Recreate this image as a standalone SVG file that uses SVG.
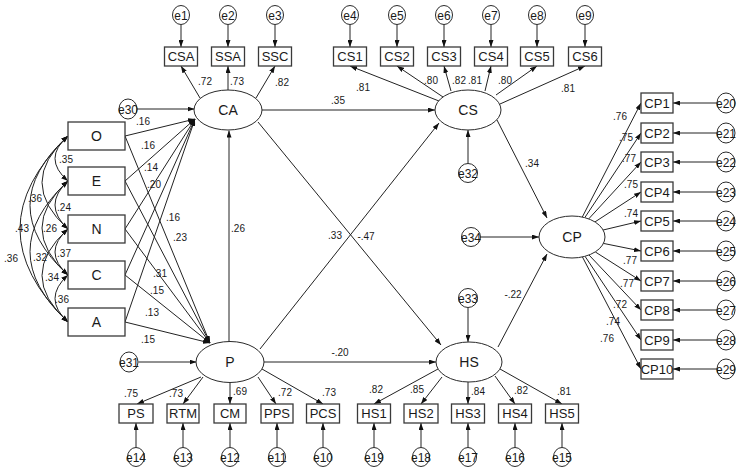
<svg xmlns="http://www.w3.org/2000/svg" width="738" height="471" viewBox="0 0 738 471">
<style>
text{font-family:"Liberation Sans",Arial,sans-serif;fill:#1a1a1a;text-anchor:middle}
.box{fill:#fff;stroke:#3a3a3a;stroke-width:1.3}
.lat{fill:#fff;stroke:#2a2a2a;stroke-width:1}
.err{fill:#fff;stroke:#2a2a2a;stroke-width:1}
.bl{font-size:13px}
.ll{font-size:14px}
.el{font-size:12px}
.cf{font-size:10px}
#connectors line,#connectors path{stroke:#222;stroke-width:1;fill:none;marker-end:url(#a)}
#connectors .cor{marker-start:url(#a)}
</style>
<defs>
<marker id="a" viewBox="0 0 7 5" refX="7" refY="2.5" markerWidth="7" markerHeight="5" orient="auto-start-reverse" markerUnits="userSpaceOnUse"><path d="M0,0 L7,2.5 L0,5 z" fill="#111"/></marker>
</defs>
<rect width="738" height="471" fill="#fff"/>

<g id="connectors">
<line x1="181" y1="24.5" x2="181" y2="47"/>
<line x1="228" y1="24.5" x2="228" y2="47"/>
<line x1="275" y1="24.5" x2="275" y2="47"/>
<line x1="350" y1="24.5" x2="350" y2="47"/>
<line x1="397" y1="24.5" x2="397" y2="47"/>
<line x1="444" y1="24.5" x2="444" y2="47"/>
<line x1="491" y1="24.5" x2="491" y2="47"/>
<line x1="537" y1="24.5" x2="537" y2="47"/>
<line x1="585" y1="24.5" x2="585" y2="47"/>
<line x1="200" y1="98" x2="181" y2="66"/>
<line x1="228" y1="90" x2="228" y2="66"/>
<line x1="256" y1="98" x2="275" y2="66"/>
<line x1="439" y1="101" x2="350" y2="66"/>
<line x1="443" y1="97" x2="397" y2="66"/>
<line x1="451" y1="91" x2="444" y2="66"/>
<line x1="485" y1="91" x2="491" y2="66"/>
<line x1="496" y1="95" x2="537" y2="66"/>
<line x1="500" y1="104" x2="585" y2="66"/>
<line x1="137" y1="109" x2="194.5" y2="109"/>
<line x1="262" y1="110" x2="435" y2="110"/>
<line x1="229" y1="342" x2="229" y2="130.5"/>
<line x1="258" y1="122" x2="441" y2="345"/>
<line x1="260" y1="349" x2="439" y2="123"/>
<line x1="264" y1="362" x2="436" y2="362"/>
<line x1="138.5" y1="362" x2="196.5" y2="362"/>
<line x1="497" y1="120" x2="547" y2="218"/>
<line x1="498" y1="347" x2="547" y2="254"/>
<line x1="468" y1="163.5" x2="468" y2="130"/>
<line x1="480.5" y1="237" x2="539" y2="237"/>
<line x1="468" y1="307.5" x2="468" y2="342"/>
<line x1="125" y1="136" x2="195" y2="119"/>
<line x1="125" y1="181" x2="195" y2="119"/>
<line x1="125" y1="229" x2="195" y2="119"/>
<line x1="125" y1="275" x2="195" y2="119"/>
<line x1="125" y1="322" x2="195" y2="119"/>
<line x1="125" y1="136" x2="210" y2="343"/>
<line x1="125" y1="181" x2="210" y2="343"/>
<line x1="125" y1="229" x2="210" y2="343"/>
<line x1="125" y1="275" x2="210" y2="343"/>
<line x1="125" y1="322" x2="210" y2="343"/>
<path class="cor" d="M68,136 Q42,158.5 68,181"/>
<path class="cor" d="M68,181 Q42,205 68,229"/>
<path class="cor" d="M68,229 Q42,252 68,275"/>
<path class="cor" d="M68,275 Q42,298.5 68,322"/>
<path class="cor" d="M68,136 Q16,182.5 68,229"/>
<path class="cor" d="M68,181 Q16,228 68,275"/>
<path class="cor" d="M68,229 Q16,275.5 68,322"/>
<path class="cor" d="M68,136 Q-8,205.5 68,275"/>
<path class="cor" d="M68,181 Q-8,251.5 68,322"/>
<path class="cor" d="M68,136 Q-28,229 68,322"/>
<line x1="201" y1="377" x2="137" y2="404"/>
<line x1="203" y1="377" x2="183" y2="404"/>
<line x1="230" y1="382.5" x2="230" y2="404"/>
<line x1="258" y1="377" x2="276" y2="404"/>
<line x1="262" y1="369" x2="323" y2="404"/>
<line x1="438" y1="369" x2="374" y2="404"/>
<line x1="442" y1="377" x2="421" y2="404"/>
<line x1="468" y1="382" x2="468" y2="404"/>
<line x1="495" y1="376" x2="515" y2="404"/>
<line x1="500" y1="369" x2="562" y2="404"/>
<line x1="136" y1="447.5" x2="136" y2="423"/>
<line x1="183" y1="447.5" x2="183" y2="423"/>
<line x1="230" y1="447.5" x2="230" y2="423"/>
<line x1="277" y1="447.5" x2="277" y2="423"/>
<line x1="323" y1="447.5" x2="323" y2="423"/>
<line x1="374" y1="447.5" x2="374" y2="423"/>
<line x1="421" y1="447.5" x2="421" y2="423"/>
<line x1="468" y1="447.5" x2="468" y2="423"/>
<line x1="515" y1="447.5" x2="515" y2="423"/>
<line x1="562" y1="447.5" x2="562" y2="423"/>
<line x1="582.3" y1="217" x2="641" y2="103"/>
<line x1="584.8" y1="217.6" x2="641" y2="133"/>
<line x1="588.7" y1="218.9" x2="641" y2="162"/>
<line x1="595" y1="221.9" x2="641" y2="192"/>
<line x1="603.1" y1="230" x2="641" y2="221"/>
<line x1="603.4" y1="243.4" x2="641" y2="251"/>
<line x1="595.4" y1="252" x2="641" y2="281"/>
<line x1="589" y1="255" x2="641" y2="310"/>
<line x1="585" y1="256.3" x2="641" y2="340"/>
<line x1="582.4" y1="256.9" x2="641" y2="369"/>
<line x1="717" y1="103" x2="673" y2="103"/>
<line x1="717" y1="133" x2="673" y2="133"/>
<line x1="717" y1="162" x2="673" y2="162"/>
<line x1="717" y1="192" x2="673" y2="192"/>
<line x1="717" y1="221" x2="673" y2="221"/>
<line x1="717" y1="251" x2="673" y2="251"/>
<line x1="717" y1="281" x2="673" y2="281"/>
<line x1="717" y1="310" x2="673" y2="310"/>
<line x1="717" y1="340" x2="673" y2="340"/>
<line x1="717" y1="369" x2="673" y2="369"/>
</g>

<g id="coefficients" class="cf">
<text x="205" y="84.5">.72</text>
<text x="237" y="84.5">.73</text>
<text x="282" y="85.5">.82</text>
<text x="363" y="90.5">.81</text>
<text x="431" y="83.5">.80</text>
<text x="459" y="83.5">.82</text>
<text x="475" y="83.5">.81</text>
<text x="505" y="83.5">.80</text>
<text x="568" y="91.5">.81</text>
<text x="338" y="103.5">.35</text>
<text x="532" y="166.5">.34</text>
<text x="238" y="231.5">.26</text>
<text x="335" y="238.5">.33</text>
<text x="366" y="239.5">-.47</text>
<text x="513" y="297.5">-.22</text>
<text x="340" y="355.5">-.20</text>
<text x="143" y="124.5">.16</text>
<text x="148" y="148.5">.16</text>
<text x="151" y="170.5">.14</text>
<text x="154" y="187.5">.20</text>
<text x="173" y="220.5">.16</text>
<text x="180" y="240.5">.23</text>
<text x="160" y="276.5">.31</text>
<text x="157" y="293.5">.15</text>
<text x="152" y="315.5">.13</text>
<text x="148" y="342.5">.15</text>
<text x="66" y="162.5">.35</text>
<text x="64" y="210.5">.24</text>
<text x="64" y="256.5">.37</text>
<text x="62" y="302.5">.36</text>
<text x="35" y="201.5">.36</text>
<text x="50" y="231.5">.26</text>
<text x="22" y="231.5">.43</text>
<text x="40" y="260.5">.32</text>
<text x="52" y="280.5">.34</text>
<text x="11" y="261.5">.36</text>
<text x="131" y="396.5">.75</text>
<text x="176" y="396.5">.73</text>
<text x="240" y="394.5">.69</text>
<text x="285" y="395.5">.72</text>
<text x="329" y="395.5">.73</text>
<text x="376" y="392.5">.82</text>
<text x="417" y="392.5">.85</text>
<text x="478" y="394.5">.84</text>
<text x="521" y="393.5">.82</text>
<text x="564" y="394.5">.81</text>
<text x="620" y="119.5">.76</text>
<text x="626" y="140.5">.75</text>
<text x="629" y="161.5">.77</text>
<text x="631" y="187.5">.75</text>
<text x="631" y="216.5">.74</text>
<text x="630" y="263.5">.77</text>
<text x="627" y="286.5">.77</text>
<text x="620" y="307.5">.72</text>
<text x="613" y="324.5">.74</text>
<text x="607" y="341.5">.76</text>
</g>

<g id="CA"><ellipse class="lat" cx="228" cy="110" rx="34" ry="20"/><text class="ll" x="228" y="115">CA</text></g>
<g id="CS"><ellipse class="lat" cx="468" cy="110" rx="33" ry="20"/><text class="ll" x="468" y="115">CS</text></g>
<g id="P"><ellipse class="lat" cx="230" cy="362" rx="34" ry="20.5"/><text class="ll" x="230" y="367">P</text></g>
<g id="HS"><ellipse class="lat" cx="469" cy="362" rx="33" ry="20"/><text class="ll" x="469" y="367">HS</text></g>
<g id="CPl"><ellipse class="lat" cx="572" cy="237" rx="33" ry="21"/><text class="ll" x="572" y="242">CP</text></g>

<g id="O"><rect class="box" x="68" y="122" width="57" height="28"/><text class="ll" x="96.5" y="141">O</text></g>
<g id="E"><rect class="box" x="68" y="167" width="57" height="28"/><text class="ll" x="96.5" y="186">E</text></g>
<g id="N"><rect class="box" x="68" y="215" width="57" height="28"/><text class="ll" x="96.5" y="234">N</text></g>
<g id="C"><rect class="box" x="68" y="261" width="57" height="28"/><text class="ll" x="96.5" y="280">C</text></g>
<g id="A"><rect class="box" x="68" y="308" width="57" height="28"/><text class="ll" x="96.5" y="327">A</text></g>

<g id="CSA"><rect class="box" x="164.5" y="47" width="33" height="19"/><text class="bl" x="181" y="61">CSA</text></g>
<g id="SSA"><rect class="box" x="211.5" y="47" width="33" height="19"/><text class="bl" x="228" y="61">SSA</text></g>
<g id="SSC"><rect class="box" x="258.5" y="47" width="33" height="19"/><text class="bl" x="275" y="61">SSC</text></g>
<g id="CS1"><rect class="box" x="333.5" y="47" width="33" height="19"/><text class="bl" x="350" y="61">CS1</text></g>
<g id="CS2"><rect class="box" x="380.5" y="47" width="33" height="19"/><text class="bl" x="397" y="61">CS2</text></g>
<g id="CS3"><rect class="box" x="427.5" y="47" width="33" height="19"/><text class="bl" x="444" y="61">CS3</text></g>
<g id="CS4"><rect class="box" x="474.5" y="47" width="33" height="19"/><text class="bl" x="491" y="61">CS4</text></g>
<g id="CS5"><rect class="box" x="520.5" y="47" width="33" height="19"/><text class="bl" x="537" y="61">CS5</text></g>
<g id="CS6"><rect class="box" x="568.5" y="47" width="33" height="19"/><text class="bl" x="585" y="61">CS6</text></g>

<g id="PS"><rect class="box" x="119" y="404" width="34" height="19"/><text class="bl" x="136" y="418">PS</text></g>
<g id="RTM"><rect class="box" x="167" y="404" width="32" height="19"/><text class="bl" x="183" y="418">RTM</text></g>
<g id="CM"><rect class="box" x="214" y="404" width="32" height="19"/><text class="bl" x="230" y="418">CM</text></g>
<g id="PPS"><rect class="box" x="261" y="404" width="32" height="19"/><text class="bl" x="277" y="418">PPS</text></g>
<g id="PCS"><rect class="box" x="306.5" y="404" width="33" height="19"/><text class="bl" x="323" y="418">PCS</text></g>
<g id="HS1"><rect class="box" x="357.5" y="404" width="33" height="19"/><text class="bl" x="374" y="418">HS1</text></g>
<g id="HS2"><rect class="box" x="404" y="404" width="34" height="19"/><text class="bl" x="421" y="418">HS2</text></g>
<g id="HS3"><rect class="box" x="451.5" y="404" width="33" height="19"/><text class="bl" x="468" y="418">HS3</text></g>
<g id="HS4"><rect class="box" x="498.5" y="404" width="33" height="19"/><text class="bl" x="515" y="418">HS4</text></g>
<g id="HS5"><rect class="box" x="545.5" y="404" width="33" height="19"/><text class="bl" x="562" y="418">HS5</text></g>

<g id="CP1"><rect class="box" x="641" y="93" width="32" height="20"/><text class="bl" x="657" y="107.5">CP1</text></g>
<g id="CP2"><rect class="box" x="641" y="123" width="32" height="20"/><text class="bl" x="657" y="137.5">CP2</text></g>
<g id="CP3"><rect class="box" x="641" y="152" width="32" height="20"/><text class="bl" x="657" y="166.5">CP3</text></g>
<g id="CP4"><rect class="box" x="641" y="182" width="32" height="20"/><text class="bl" x="657" y="196.5">CP4</text></g>
<g id="CP5"><rect class="box" x="641" y="211" width="32" height="20"/><text class="bl" x="657" y="225.5">CP5</text></g>
<g id="CP6"><rect class="box" x="641" y="241" width="32" height="20"/><text class="bl" x="657" y="255.5">CP6</text></g>
<g id="CP7"><rect class="box" x="641" y="271" width="32" height="20"/><text class="bl" x="657" y="285.5">CP7</text></g>
<g id="CP8"><rect class="box" x="641" y="300" width="32" height="20"/><text class="bl" x="657" y="314.5">CP8</text></g>
<g id="CP9"><rect class="box" x="641" y="330" width="32" height="20"/><text class="bl" x="657" y="344.5">CP9</text></g>
<g id="CP10"><rect class="box" x="641" y="359" width="32" height="20"/><text class="bl" x="657" y="373.5">CP10</text></g>

<g id="e1"><ellipse class="err" cx="181" cy="15" rx="8.5" ry="9.5"/><text class="el" x="181" y="19.5">e1</text></g>
<g id="e2"><ellipse class="err" cx="228" cy="15" rx="8.5" ry="9.5"/><text class="el" x="228" y="19.5">e2</text></g>
<g id="e3"><ellipse class="err" cx="275" cy="15" rx="8.5" ry="9.5"/><text class="el" x="275" y="19.5">e3</text></g>
<g id="e4"><ellipse class="err" cx="350" cy="15" rx="8.5" ry="9.5"/><text class="el" x="350" y="19.5">e4</text></g>
<g id="e5"><ellipse class="err" cx="397" cy="15" rx="8.5" ry="9.5"/><text class="el" x="397" y="19.5">e5</text></g>
<g id="e6"><ellipse class="err" cx="444" cy="15" rx="8.5" ry="9.5"/><text class="el" x="444" y="19.5">e6</text></g>
<g id="e7"><ellipse class="err" cx="491" cy="15" rx="8.5" ry="9.5"/><text class="el" x="491" y="19.5">e7</text></g>
<g id="e8"><ellipse class="err" cx="537" cy="15" rx="8.5" ry="9.5"/><text class="el" x="537" y="19.5">e8</text></g>
<g id="e9"><ellipse class="err" cx="585" cy="15" rx="8.5" ry="9.5"/><text class="el" x="585" y="19.5">e9</text></g>
<g id="e14"><ellipse class="err" cx="136" cy="457" rx="8.5" ry="9.5"/><text class="el" x="136" y="461.5">e14</text></g>
<g id="e13"><ellipse class="err" cx="183" cy="457" rx="8.5" ry="9.5"/><text class="el" x="183" y="461.5">e13</text></g>
<g id="e12"><ellipse class="err" cx="230" cy="457" rx="8.5" ry="9.5"/><text class="el" x="230" y="461.5">e12</text></g>
<g id="e11"><ellipse class="err" cx="277" cy="457" rx="8.5" ry="9.5"/><text class="el" x="277" y="461.5">e11</text></g>
<g id="e10"><ellipse class="err" cx="323" cy="457" rx="8.5" ry="9.5"/><text class="el" x="323" y="461.5">e10</text></g>
<g id="e19"><ellipse class="err" cx="374" cy="457" rx="8.5" ry="9.5"/><text class="el" x="374" y="461.5">e19</text></g>
<g id="e18"><ellipse class="err" cx="421" cy="457" rx="8.5" ry="9.5"/><text class="el" x="421" y="461.5">e18</text></g>
<g id="e17"><ellipse class="err" cx="468" cy="457" rx="8.5" ry="9.5"/><text class="el" x="468" y="461.5">e17</text></g>
<g id="e16"><ellipse class="err" cx="515" cy="457" rx="8.5" ry="9.5"/><text class="el" x="515" y="461.5">e16</text></g>
<g id="e15"><ellipse class="err" cx="562" cy="457" rx="8.5" ry="9.5"/><text class="el" x="562" y="461.5">e15</text></g>
<g id="e20"><ellipse class="err" cx="726" cy="103" rx="9" ry="10"/><text class="el" x="726" y="107.5">e20</text></g>
<g id="e21"><ellipse class="err" cx="726" cy="133" rx="9" ry="10"/><text class="el" x="726" y="137.5">e21</text></g>
<g id="e22"><ellipse class="err" cx="726" cy="162" rx="9" ry="10"/><text class="el" x="726" y="166.5">e22</text></g>
<g id="e23"><ellipse class="err" cx="726" cy="192" rx="9" ry="10"/><text class="el" x="726" y="196.5">e23</text></g>
<g id="e24"><ellipse class="err" cx="726" cy="221" rx="9" ry="10"/><text class="el" x="726" y="225.5">e24</text></g>
<g id="e25"><ellipse class="err" cx="726" cy="251" rx="9" ry="10"/><text class="el" x="726" y="255.5">e25</text></g>
<g id="e26"><ellipse class="err" cx="726" cy="281" rx="9" ry="10"/><text class="el" x="726" y="285.5">e26</text></g>
<g id="e27"><ellipse class="err" cx="726" cy="310" rx="9" ry="10"/><text class="el" x="726" y="314.5">e27</text></g>
<g id="e28"><ellipse class="err" cx="726" cy="340" rx="9" ry="10"/><text class="el" x="726" y="344.5">e28</text></g>
<g id="e29"><ellipse class="err" cx="726" cy="369" rx="9" ry="10"/><text class="el" x="726" y="373.5">e29</text></g>
<g id="e30"><ellipse class="err" cx="128" cy="109" rx="9" ry="10"/><text class="el" x="128" y="113.5">e30</text></g>
<g id="e31"><ellipse class="err" cx="129" cy="362" rx="9" ry="10"/><text class="el" x="129" y="366.5">e31</text></g>
<g id="e32"><ellipse class="err" cx="468" cy="173" rx="9.5" ry="9.5"/><text class="el" x="468" y="177.5">e32</text></g>
<g id="e33"><ellipse class="err" cx="468" cy="298" rx="9.5" ry="9.5"/><text class="el" x="468" y="302.5">e33</text></g>
<g id="e34"><ellipse class="err" cx="471" cy="237" rx="9.5" ry="9.5"/><text class="el" x="471" y="241.5">e34</text></g>
</svg>
